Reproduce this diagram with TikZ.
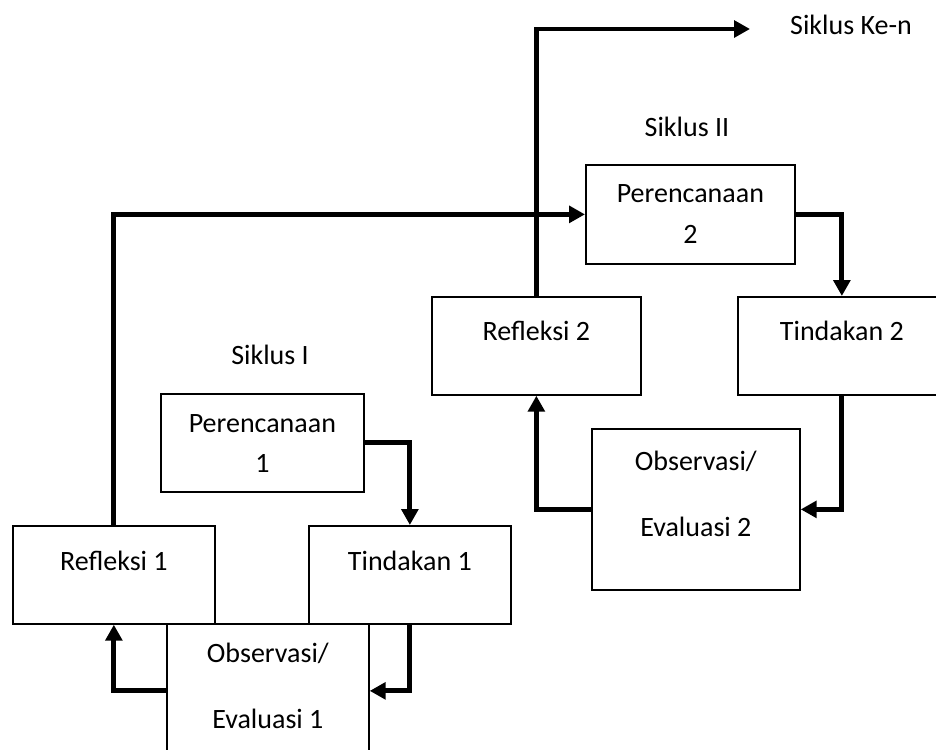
\documentclass[tikz,border=0pt]{standalone}
\usepackage{fontspec}
\setmainfont{Carlito}
\usetikzlibrary{arrows.meta}

\tikzset{
  kotak/.style={draw,line width=1.3pt,anchor=north west,inner sep=0pt,
    align=center,font=\fontsize{21}{30}\selectfont},
  panah/.style={line width=3.6pt,-{Triangle[width=12.5pt,length=12pt]}},
  garis/.style={line width=3.6pt},
  teks/.style={font=\fontsize{21}{30}\selectfont,inner sep=0pt}
}

\begin{document}
\begin{tikzpicture}[x=0.75pt,y=-0.75pt]
\useasboundingbox (0,0) rectangle (936,750);

% siklus I
\node[kotak,minimum width=152.25pt,text height=59.25pt,text depth=14.25pt] (pr1) at (160,393) {Perencanaan\\1};
\node[kotak,minimum width=151.5pt,text height=33.75pt,text depth=39.75pt] (re1) at (12,525) {Refleksi 1};
\node[kotak,minimum width=151.5pt,text height=33.75pt,text depth=39.75pt] (ti1) at (308,525) {Tindakan 1};
\node[kotak,minimum width=151.5pt,text height=78.75pt,text depth=21.75pt] (ob1) at (166,623) {Observasi/\\[19.5pt]Evaluasi 1};
\node[teks] (s1) at (270,355) {Siklus I};

% siklus II
\node[kotak,minimum width=156.75pt,text height=59.25pt,text depth=15pt] (pr2) at (585,164) {Perencanaan\\[0.75pt]2};
\node[kotak,minimum width=156.75pt,text height=33pt,text depth=40.5pt] (re2) at (431,296) {Refleksi 2};
\node[kotak,minimum width=156pt,text height=33pt,text depth=40.5pt] (ti2) at (737,296) {Tindakan 2};
\node[kotak,minimum width=156pt,text height=81pt,text depth=39.75pt] (ob2) at (591,428) {Observasi/\\[19.5pt]Evaluasi 2};
\node[teks] (s2) at (687,127) {Siklus II};

% siklus ke-n
\coordinate (ujung) at (750,29);
\node[teks] (sn) at (851,25) {Siklus Ke-n};

\draw[panah] (pr1.east) -| (ti1.north);
\draw[panah] (ti1.south) |- (ob1.east);
\draw[panah] (ob1.west) -| (re1.south);
\draw[panah] (re1.north) |- (pr2.west);

\draw[panah] (pr2.east) -| (ti2.north);
\draw[panah] (ti2.south) |- (ob2.east);
\draw[panah] (ob2.west) -| (re2.south);
\draw[panah] (re2.north) |- (ujung);

\end{tikzpicture}
\end{document}
